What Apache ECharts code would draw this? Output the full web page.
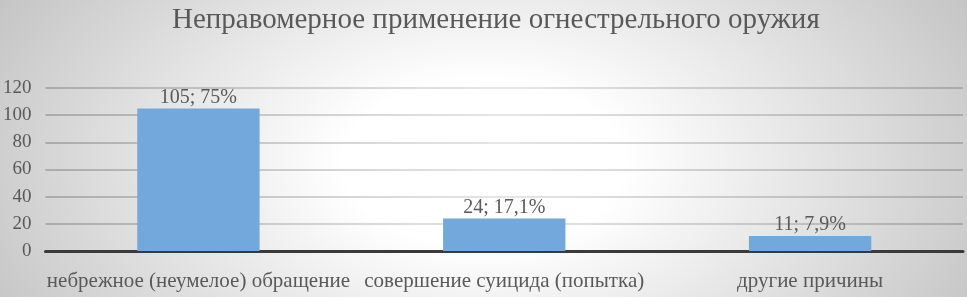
<!DOCTYPE html>
<html>
<head>
<meta charset="utf-8">
<script src="https://cdn.jsdelivr.net/npm/echarts@6/dist/echarts.min.js"></script>
<style>
  html, body { margin: 0; padding: 0; }
  #chart {
    width: 967px; height: 297px;
    background: radial-gradient(ellipse 560px 330px at 50% 55%, #ffffff 25%, #c4c4c4 100%);
  }
</style>
</head>
<body>
<div id="chart"></div>
<script>
// данные
const categories = ['небрежное (неумелое) обращение', 'совершение суицида (попытка)', 'другие причины']
const values = [105, 24, 11]
const shares = ['75%', '17,1%', '7,9%']
const yTicks = [0, 20, 40, 60, 80, 100, 120]

const myChart = echarts.init(document.getElementById('chart'))
const textColor = '#595959'
const font = '"Liberation Serif", "DejaVu Serif", serif'

let option = {
  backgroundColor: 'transparent',
  animation: false,
  title: {
    text: 'Неправомерное применение огнестрельного оружия',
    left: 167,
    top: 1,
    textStyle: { color: textColor, fontFamily: font, fontSize: 29, fontWeight: 'normal' }
  },
  grid: { left: 44, right: 4, top: 88, bottom: 46 },
  xAxis: {
    type: 'category',
    data: categories,
    axisLine: { show: true, lineStyle: { color: '#3a3a3a', width: 3 } },
    axisTick: { show: false },
    axisLabel: { color: textColor, fontFamily: font, fontSize: 21, margin: 20, interval: 0 }
  },
  yAxis: {
    type: 'value',
    min: yTicks[0],
    max: yTicks[yTicks.length - 1],
    interval: 20,
    axisLine: { show: false },
    axisTick: { show: false },
    splitLine: {
      lineStyle: {
        width: 1.5,
        color: {
          type: 'linear', x: 0, y: 0, x2: 1, y2: 0,
          colorStops: [
            { offset: 0, color: '#9c9c9c' },
            { offset: 0.5, color: '#dedede' },
            { offset: 1, color: '#9c9c9c' }
          ]
        }
      }
    },
    axisLabel: { color: textColor, fontFamily: font, fontSize: 19, margin: 14 }
  },
  series: [{
    type: 'bar',
    data: values,
    barWidth: '40%',
    itemStyle: { color: '#72a8dc' },
    label: {
      show: true,
      position: 'top',
      distance: 1,
      color: textColor,
      fontFamily: font,
      fontSize: 20,
      formatter: p => p.value + '; ' + shares[p.dataIndex]
    }
  }]
}
myChart.setOption(option)
</script>
</body>
</html>
